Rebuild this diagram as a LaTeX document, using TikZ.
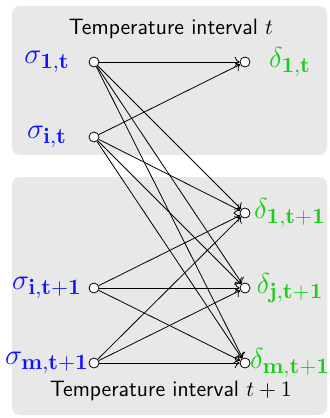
\documentclass[tikz,border=0pt]{standalone}
\usepackage{amsmath,amssymb}
\usepackage{tikz}
\usetikzlibrary{arrows.meta,positioning}
\definecolor{panelgray}{RGB}{232,232,232}
\definecolor{srcblue}{RGB}{20,20,250}
\definecolor{dstgreen}{RGB}{25,205,25}

\begin{document}
\begin{tikzpicture}[
  x=0.5pt, y=-0.5pt,
  panel/.style={fill=panelgray, rounded corners=4pt},
  pt/.style={circle, draw, fill=white, inner sep=0pt, minimum size=5pt},
  src/.style={font=\fontsize{15.3}{18}\selectfont, text=srcblue},
  dst/.style={font=\fontsize{15.3}{18}\selectfont, text=dstgreen},
  ttl/.style={font=\sffamily\fontsize{11.1}{13}\selectfont},
  edge/.style={->, shorten >=0pt},
]
\useasboundingbox (0,0) rectangle (330,418);
% interval panels
\fill[panel] (12,6) rectangle (327,155);
\fill[panel] (12,177) rectangle (327,415);
\node[ttl] (ttop) at (171,29) {Temperature interval $t$};
\node[ttl] (tbot) at (171,391) {Temperature interval $t+1$};
% sources (left) and destinations (right)
\foreach \n/\y/\t in {s1t/62/{1,t}, sit/137/{i,t}, sit1/288/{i,t+1}, smt1/363/{m,t+1}} {
  \node[pt] (\n) at (94,\y) {};
  \node[src] (l\n) at (47,\y) {$\sigma_{\mathbf{\t}}$};
}
\foreach \n/\y/\t in {d1t/62/{1,t}, d1t1/213/{1,t+1}, djt1/288/{j,t+1}, dmt1/363/{m,t+1}} {
  \node[pt] (\n) at (245,\y) {};
  \node[dst] (l\n) at (290,\y) {$\delta_{\mathbf{\t}}$};
}
% transitions
\foreach \s in {s1t,sit}
  \foreach \d in {d1t,d1t1,djt1,dmt1}
    \draw[edge] (\s) -- (\d);
\foreach \s in {sit1,smt1}
  \foreach \d in {d1t1,djt1,dmt1}
    \draw[edge] (\s) -- (\d);
\end{tikzpicture}
\end{document}
